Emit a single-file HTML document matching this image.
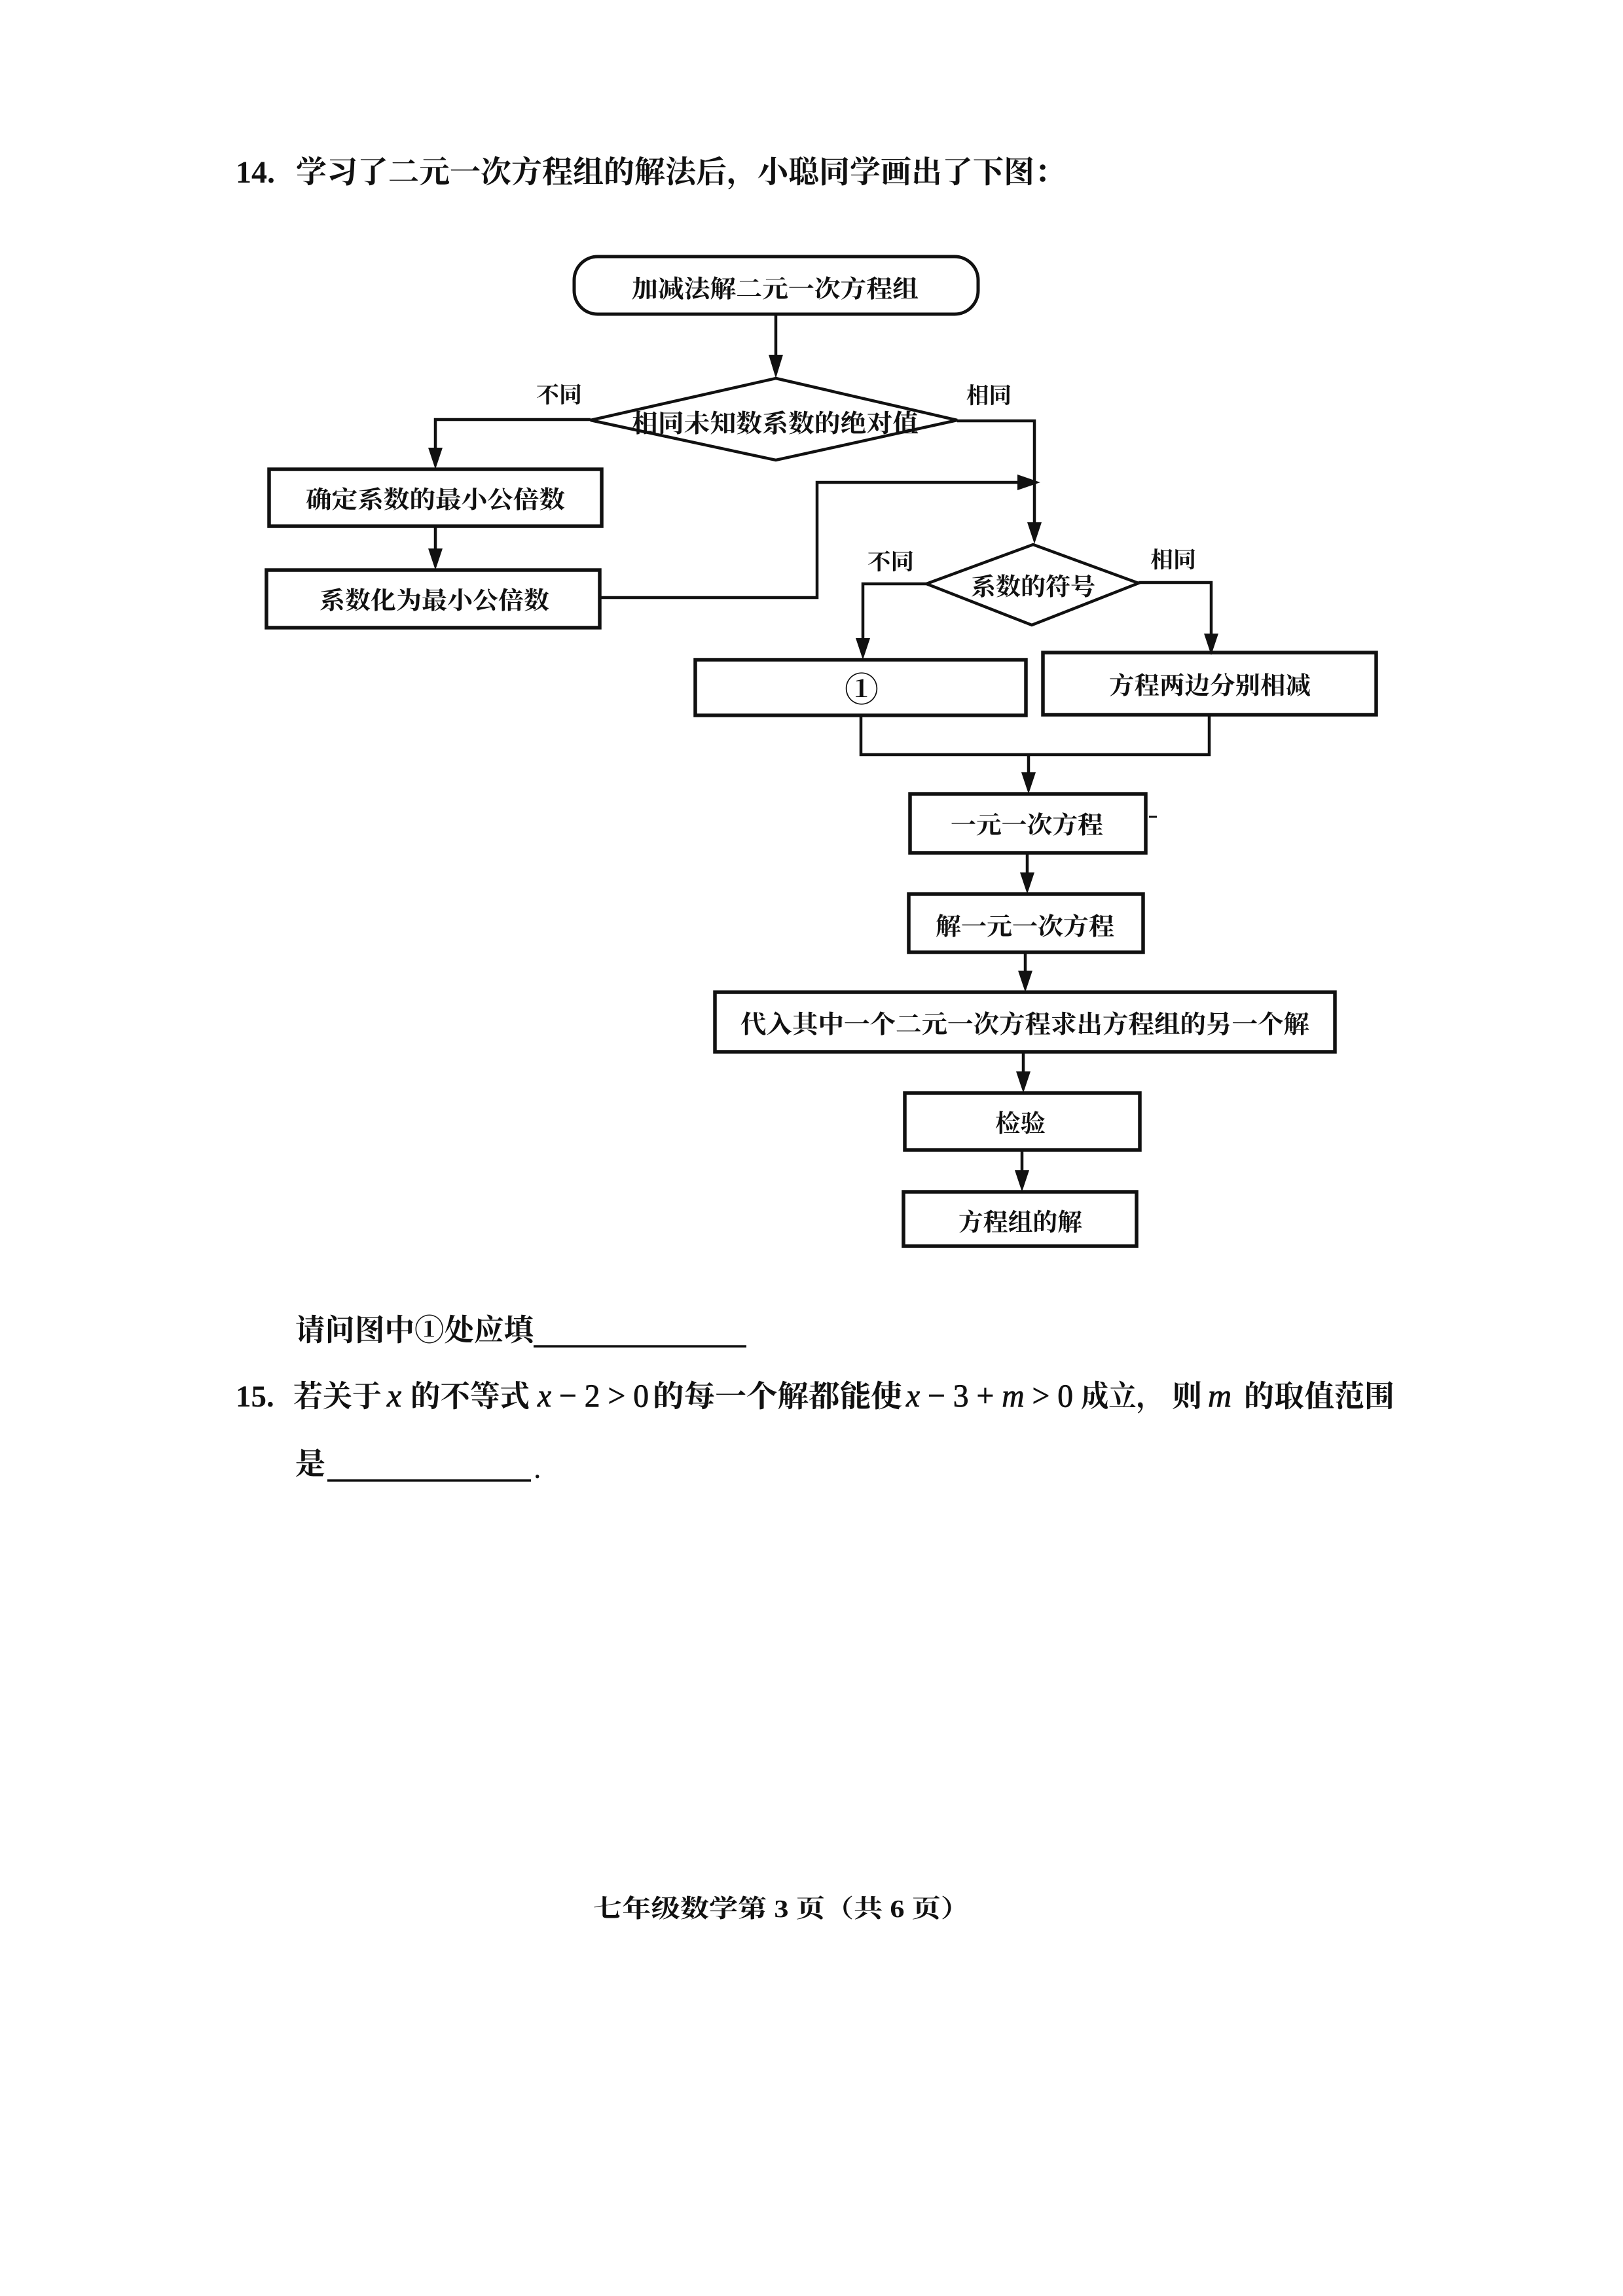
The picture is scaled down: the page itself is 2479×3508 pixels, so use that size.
<!DOCTYPE html>
<html>
<head>
<meta charset="utf-8">
<style>
html,body{margin:0;padding:0;background:#fff;}
svg{display:block;}
.cj{font-family:"Liberation Serif","Noto Serif CJK SC",serif;font-weight:700;fill:#111;}
.fc{font-family:"Liberation Serif","Noto Serif CJK SC",serif;font-weight:700;fill:#111;}
.mi{font-family:"Liberation Serif",serif;font-style:italic;fill:#111;stroke:#111;stroke-width:0.8;}
.mn{font-family:"Liberation Serif",serif;fill:#111;}
.mt{font-family:"Liberation Serif",serif;fill:#111;stroke:#111;stroke-width:0.8;}
</style>
</head>
<body>
<svg width="2479" height="3508" viewBox="0 0 2479 3508" xmlns="http://www.w3.org/2000/svg">
<rect x="0" y="0" width="2479" height="3508" fill="#fff"/>

<!-- Title -->
<text class="mn" x="360" y="279" font-size="48" font-weight="700">14.</text>
<text class="cj" x="452" y="279" font-size="47" textLength="1175" lengthAdjust="spacingAndGlyphs">学习了二元一次方程组的解法后，小聪同学画出了下图：</text>

<g stroke="#111" fill="none" stroke-linejoin="miter">
  <rect x="877" y="392" width="617" height="88" rx="36" ry="36" stroke-width="5"/>
  <polygon points="1185,578 1462,642 1185,703 902,642" stroke-width="4.5"/>
  <rect x="411" y="717" width="508" height="87" stroke-width="5.5"/>
  <rect x="407" y="871" width="509" height="88" stroke-width="5.5"/>
  <polygon points="1578,832 1739,891 1576,955 1415,892" stroke-width="4.5"/>
  <rect x="1062" y="1008" width="505" height="85" stroke-width="5.5"/>
  <rect x="1593" y="997" width="509" height="95" stroke-width="5.5"/>
  <rect x="1390" y="1213" width="360" height="90" stroke-width="5.5"/>
  <rect x="1388" y="1366" width="358" height="89" stroke-width="5.5"/>
  <rect x="1092" y="1516" width="947" height="91" stroke-width="5.5"/>
  <rect x="1382" y="1670" width="359" height="87" stroke-width="5.5"/>
  <rect x="1380" y="1821" width="356" height="83" stroke-width="5.5"/>

  <line x1="1185" y1="480" x2="1185" y2="545" stroke-width="4.5"/>
  <polyline points="902,641 665,641 665,690" stroke-width="4.5"/>
  <line x1="665" y1="804" x2="665" y2="842" stroke-width="4.5"/>
  <polyline points="916,913 1248,913 1248,737 1558,737" stroke-width="4.5"/>
  <polyline points="1462,643 1580,643 1580,802" stroke-width="4.5"/>
  <polyline points="1415,892 1318,892 1318,978" stroke-width="4.5"/>
  <polyline points="1739,890 1850,890 1850,970" stroke-width="4.5"/>
  <polyline points="1315,1093 1315,1153 1847,1153 1847,1092" stroke-width="4.5"/>
  <line x1="1571" y1="1153" x2="1571" y2="1184" stroke-width="4.5"/>
  <line x1="1569" y1="1303" x2="1569" y2="1337" stroke-width="4.5"/>
  <line x1="1566" y1="1455" x2="1566" y2="1487" stroke-width="4.5"/>
  <line x1="1563" y1="1607" x2="1563" y2="1640" stroke-width="4.5"/>
  <line x1="1561" y1="1757" x2="1561" y2="1792" stroke-width="4.5"/>
  <line x1="1755" y1="1248" x2="1767" y2="1248" stroke-width="3"/>
</g>

<g fill="#111" stroke="none">
  <polygon points="1174,542 1196,542 1185,578"/>
  <polygon points="654,684 676,684 665,717"/>
  <polygon points="654,838 676,838 665,871"/>
  <polygon points="1554,725 1554,749 1589,737"/>
  <polygon points="1569,798 1591,798 1580,831"/>
  <polygon points="1307,975 1329,975 1318,1008"/>
  <polygon points="1839,968 1861,968 1850,1001"/>
  <polygon points="1560,1180 1582,1180 1571,1213"/>
  <polygon points="1558,1333 1580,1333 1569,1366"/>
  <polygon points="1555,1483 1577,1483 1566,1516"/>
  <polygon points="1552,1637 1574,1637 1563,1670"/>
  <polygon points="1550,1788 1572,1788 1561,1821"/>
</g>

<text class="fc" x="965" y="454" font-size="37" textLength="438" lengthAdjust="spacingAndGlyphs">加减法解二元一次方程组</text>
<text class="fc" x="965" y="660" font-size="38" textLength="438" lengthAdjust="spacingAndGlyphs">相同未知数系数的绝对值</text>
<text class="fc" x="819" y="615" font-size="34" textLength="70" lengthAdjust="spacingAndGlyphs">不同</text>
<text class="fc" x="1476" y="616" font-size="34" textLength="69" lengthAdjust="spacingAndGlyphs">相同</text>
<text class="fc" x="467" y="776" font-size="37" textLength="396" lengthAdjust="spacingAndGlyphs">确定系数的最小公倍数</text>
<text class="fc" x="488" y="930" font-size="37" textLength="351" lengthAdjust="spacingAndGlyphs">系数化为最小公倍数</text>
<text class="fc" x="1483" y="909" font-size="37" textLength="190" lengthAdjust="spacingAndGlyphs">系数的符号</text>
<text class="fc" x="1325" y="870" font-size="34" textLength="71" lengthAdjust="spacingAndGlyphs">不同</text>
<text class="fc" x="1757" y="867" font-size="34" textLength="70" lengthAdjust="spacingAndGlyphs">相同</text>
<text class="fc" x="1316" y="1072" font-size="52" text-anchor="middle" font-weight="400">①</text>
<text class="fc" x="1694" y="1060" font-size="37" textLength="308" lengthAdjust="spacingAndGlyphs">方程两边分别相减</text>
<text class="fc" x="1452" y="1273" font-size="37" textLength="233" lengthAdjust="spacingAndGlyphs">一元一次方程</text>
<text class="fc" x="1429" y="1428" font-size="37" textLength="273" lengthAdjust="spacingAndGlyphs">解一元一次方程</text>
<text class="fc" x="1131" y="1578" font-size="38" textLength="869" lengthAdjust="spacingAndGlyphs">代入其中一个二元一次方程求出方程组的另一个解</text>
<text class="fc" x="1520" y="1729" font-size="37" textLength="77" lengthAdjust="spacingAndGlyphs">检验</text>
<text class="fc" x="1464" y="1880" font-size="37" textLength="189" lengthAdjust="spacingAndGlyphs">方程组的解</text>

<text class="cj" x="451" y="2048" font-size="46" textLength="364" lengthAdjust="spacingAndGlyphs">请问图中①处应填</text>
<line x1="815" y1="2057" x2="1140" y2="2057" stroke="#111" stroke-width="3.5"/>

<text class="mn" x="360" y="2149" font-size="47" font-weight="700">15.</text>
<text class="cj" x="448" y="2149" font-size="46" textLength="135" lengthAdjust="spacingAndGlyphs">若关于</text>
<text class="mi" x="591" y="2149" font-size="50">x</text>
<text class="cj" x="627" y="2149" font-size="46" textLength="182" lengthAdjust="spacingAndGlyphs">的不等式</text>
<text class="mt" x="821" y="2149" font-size="50" textLength="170" lengthAdjust="spacingAndGlyphs"><tspan font-style="italic">x</tspan> − 2 &gt; 0</text>
<text class="cj" x="997" y="2149" font-size="46" textLength="381" lengthAdjust="spacingAndGlyphs">的每一个解都能使</text>
<text class="mt" x="1384" y="2149" font-size="50" textLength="255" lengthAdjust="spacingAndGlyphs"><tspan font-style="italic">x</tspan> − 3 + <tspan font-style="italic">m</tspan> &gt; 0</text>
<text class="cj" x="1651" y="2149" font-size="46" textLength="127" lengthAdjust="spacingAndGlyphs">成立，</text>
<text class="cj" x="1790" y="2149" font-size="46" textLength="46" lengthAdjust="spacingAndGlyphs">则</text>
<text class="mi" x="1845" y="2149" font-size="50">m</text>
<text class="cj" x="1900" y="2149" font-size="46" textLength="230" lengthAdjust="spacingAndGlyphs">的取值范围</text>

<text class="cj" x="451" y="2252" font-size="46">是</text>
<line x1="500" y1="2262" x2="811" y2="2262" stroke="#111" stroke-width="3.5"/>
<text class="mn" x="815" y="2258" font-size="46">.</text>

<text class="cj" x="906" y="2929" font-size="38" textLength="575" lengthAdjust="spacingAndGlyphs">七年级数学第 3 页（共 6 页）</text>
</svg>
</body>
</html>
